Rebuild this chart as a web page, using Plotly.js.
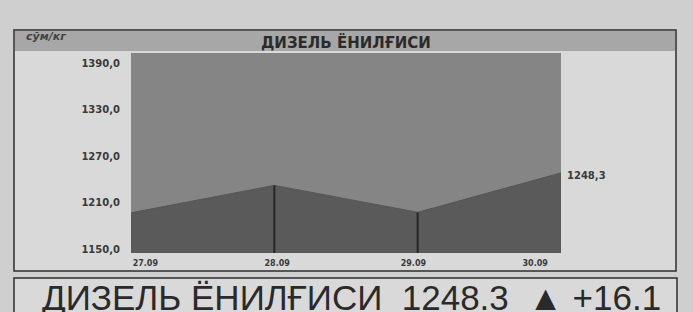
<!DOCTYPE html>
<html>
<head>
<meta charset="utf-8">
<script src="https://cdn.plot.ly/plotly-3.0.1.min.js"></script>
<style>
html,body{margin:0;padding:0;background:#cfcfcf;}
#chart{width:693px;height:312px;}
</style>
</head>
<body>
<div id="chart"></div>
<script>
// ---- data ----
const dates = ['27.09', '28.09', '29.09', '30.09'];
const prices = [1196.8, 1232.2, 1197.5, 1248.3];
const yTickVals = [1150, 1210, 1270, 1330, 1390];
const yTickText = ['1150,0', '1210,0', '1270,0', '1330,0', '1390,0'];
const productName = 'ДИЗЕЛЬ ЁНИЛҒИСИ';
const unitLabel = 'сўм/кг';
const lastPrice = 1248.3;
const priceChange = 16.1;

// ---- styling / layout helpers ----
const W = 693, H = 312;
const L = 131, R = 561, T = 53, B = 253;
const px = x => (x - L) / (R - L);
const py = y => (B - y) / (B - T);
const labelShift = [0.1, 0.02, -0.03, -0.18];

const idx = dates.map((d, i) => i);
const yMin = 1145, yMax = 1403;

// drop lines from each inner point to the axis floor
const dropX = [], dropY = [];
for (let i = 1; i < dates.length - 1; i++) {
  dropX.push(idx[i], idx[i], null);
  dropY.push(yMin, prices[i], null);
}

const traces = [
  {
    x: idx, y: prices, type: 'scatter', mode: 'lines',
    fill: 'tozeroy', fillcolor: '#5a5a5a',
    line: {color: '#555555', width: 1},
    hoverinfo: 'skip'
  },
  {
    x: dropX, y: dropY, type: 'scatter', mode: 'lines',
    line: {color: '#262626', width: 2},
    hoverinfo: 'skip'
  }
];

const yTickFont = {family: 'DejaVu Sans, sans-serif', size: 10, color: '#3a3a3a', weight: 700};
const xTickFont = {family: 'DejaVu Sans, sans-serif', size: 8, color: '#3a3a3a', weight: 700};

const layout = {
  width: W, height: H,
  margin: {l: L, r: W - R, t: T, b: H - B, pad: 0},
  paper_bgcolor: '#cfcfcf',
  plot_bgcolor: 'rgba(0,0,0,0)',
  showlegend: false,
  xaxis: {
    range: [0, 3], showgrid: false, zeroline: false, showline: false,
    tickmode: 'array',
    tickvals: idx.map((v, i) => v + labelShift[i]),
    ticktext: dates,
    ticks: 'outside', ticklen: 2, tickcolor: 'rgba(0,0,0,0)',
    tickfont: xTickFont, fixedrange: true
  },
  yaxis: {
    range: [yMin, yMax], showgrid: false, zeroline: false, showline: false,
    tickmode: 'array', tickvals: yTickVals, ticktext: yTickText,
    ticks: 'outside', ticklen: 8, tickcolor: 'rgba(0,0,0,0)',
    tickfont: yTickFont, fixedrange: true
  },
  shapes: [
    // chart frame
    {type: 'rect', xref: 'paper', yref: 'paper', layer: 'below',
     x0: px(14), x1: px(676), y0: py(271), y1: py(30),
     fillcolor: '#d9d9d9', line: {color: '#2e2e2e', width: 1.5}},
    // header band
    {type: 'rect', xref: 'paper', yref: 'paper', layer: 'below',
     x0: px(15), x1: px(675), y0: py(51), y1: py(31),
     fillcolor: '#a7a7a7', line: {width: 0}},
    // plot area background
    {type: 'rect', xref: 'x domain', yref: 'y domain', layer: 'below',
     x0: 0, x1: 1, y0: 0, y1: 1,
     fillcolor: '#858585', line: {width: 0}},
    // bottom summary box
    {type: 'rect', xref: 'paper', yref: 'paper', layer: 'below',
     x0: px(14), x1: px(677), y0: py(330), y1: py(278),
     fillcolor: '#d9d9d9', line: {color: '#2e2e2e', width: 1.5}}
  ],
  annotations: [
    {xref: 'paper', yref: 'paper', x: px(346), y: py(42),
     text: productName, showarrow: false, xanchor: 'center', yanchor: 'middle',
     font: {family: 'DejaVu Sans, sans-serif', size: 15, color: '#2b2b2b', weight: 700}},
    {xref: 'paper', yref: 'paper', x: px(24), y: py(37),
     text: '<i>' + unitLabel + '</i>', showarrow: false, xanchor: 'left', yanchor: 'middle',
     font: {family: 'DejaVu Sans, sans-serif', size: 11, color: '#444', weight: 700}},
    {xref: 'x', yref: 'y', x: idx[idx.length - 1], y: prices[prices.length - 1],
     text: prices[prices.length - 1].toFixed(1).replace('.', ','),
     showarrow: false, xanchor: 'left', yanchor: 'middle', xshift: 4, yshift: -3,
     font: yTickFont},
    {xref: 'paper', yref: 'paper', x: px(40), y: py(297),
     text: productName + '  ' + lastPrice.toFixed(1) + '  ▲ +' + priceChange.toFixed(1),
     showarrow: false, xanchor: 'left', yanchor: 'middle',
     font: {family: 'Liberation Sans, Arial, sans-serif', size: 35, color: '#2a2a2a'}}
  ]
};

Plotly.newPlot('chart', traces, layout, {displayModeBar: false, staticPlot: true});
</script>
</body>
</html>
